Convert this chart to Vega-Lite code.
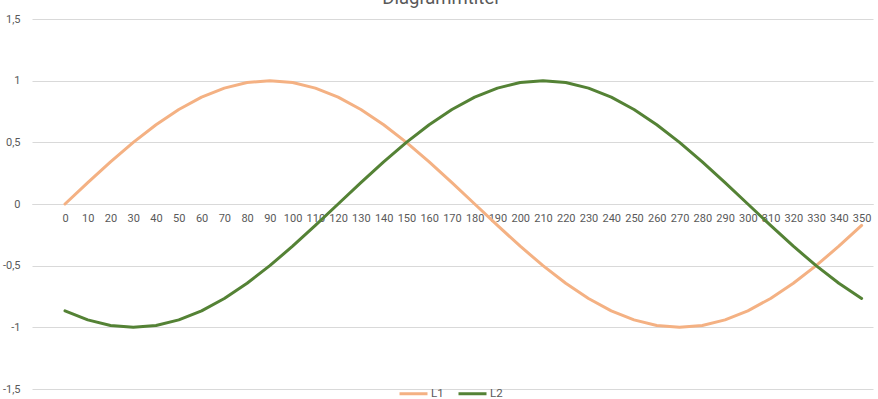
{
  "$schema": "https://vega.github.io/schema/vega-lite/v6.json",
  "width": 841,
  "height": 370,
  "autosize": {"type": "none"},
  "padding": {"top": 19, "left": 32, "right": 5, "bottom": 10},
  "background": "white",
  "title": {
    "text": "Diagrammtitel",
    "fontSize": 18.5,
    "font": "Roboto",
    "fontWeight": "normal",
    "color": "#595959",
    "anchor": "middle",
    "frame": "group",
    "baseline": "alphabetic",
    "offset": 3,
    "dx": -12,
    "dy": 12
  },
  "data": {
    "values": [
      {"x": 0, "s": "L1", "v": 0}, {"x": 10, "s": "L1", "v": 0.1736}, {"x": 20, "s": "L1", "v": 0.342}, {"x": 30, "s": "L1", "v": 0.5},
      {"x": 40, "s": "L1", "v": 0.6428}, {"x": 50, "s": "L1", "v": 0.766}, {"x": 60, "s": "L1", "v": 0.866}, {"x": 70, "s": "L1", "v": 0.9397},
      {"x": 80, "s": "L1", "v": 0.9848}, {"x": 90, "s": "L1", "v": 1}, {"x": 100, "s": "L1", "v": 0.9848}, {"x": 110, "s": "L1", "v": 0.9397},
      {"x": 120, "s": "L1", "v": 0.866}, {"x": 130, "s": "L1", "v": 0.766}, {"x": 140, "s": "L1", "v": 0.6428}, {"x": 150, "s": "L1", "v": 0.5},
      {"x": 160, "s": "L1", "v": 0.342}, {"x": 170, "s": "L1", "v": 0.1736}, {"x": 180, "s": "L1", "v": 0}, {"x": 190, "s": "L1", "v": -0.1736},
      {"x": 200, "s": "L1", "v": -0.342}, {"x": 210, "s": "L1", "v": -0.5}, {"x": 220, "s": "L1", "v": -0.6428}, {"x": 230, "s": "L1", "v": -0.766},
      {"x": 240, "s": "L1", "v": -0.866}, {"x": 250, "s": "L1", "v": -0.9397}, {"x": 260, "s": "L1", "v": -0.9848}, {"x": 270, "s": "L1", "v": -1},
      {"x": 280, "s": "L1", "v": -0.9848}, {"x": 290, "s": "L1", "v": -0.9397}, {"x": 300, "s": "L1", "v": -0.866}, {"x": 310, "s": "L1", "v": -0.766},
      {"x": 320, "s": "L1", "v": -0.6428}, {"x": 330, "s": "L1", "v": -0.5}, {"x": 340, "s": "L1", "v": -0.342}, {"x": 350, "s": "L1", "v": -0.1736},
      {"x": 0, "s": "L2", "v": -0.866}, {"x": 10, "s": "L2", "v": -0.9397}, {"x": 20, "s": "L2", "v": -0.9848}, {"x": 30, "s": "L2", "v": -1},
      {"x": 40, "s": "L2", "v": -0.9848}, {"x": 50, "s": "L2", "v": -0.9397}, {"x": 60, "s": "L2", "v": -0.866}, {"x": 70, "s": "L2", "v": -0.766},
      {"x": 80, "s": "L2", "v": -0.6428}, {"x": 90, "s": "L2", "v": -0.5}, {"x": 100, "s": "L2", "v": -0.342}, {"x": 110, "s": "L2", "v": -0.1736},
      {"x": 120, "s": "L2", "v": 0}, {"x": 130, "s": "L2", "v": 0.1736}, {"x": 140, "s": "L2", "v": 0.342}, {"x": 150, "s": "L2", "v": 0.5},
      {"x": 160, "s": "L2", "v": 0.6428}, {"x": 170, "s": "L2", "v": 0.766}, {"x": 180, "s": "L2", "v": 0.866}, {"x": 190, "s": "L2", "v": 0.9397},
      {"x": 200, "s": "L2", "v": 0.9848}, {"x": 210, "s": "L2", "v": 1}, {"x": 220, "s": "L2", "v": 0.9848}, {"x": 230, "s": "L2", "v": 0.9397},
      {"x": 240, "s": "L2", "v": 0.866}, {"x": 250, "s": "L2", "v": 0.766}, {"x": 260, "s": "L2", "v": 0.6428}, {"x": 270, "s": "L2", "v": 0.5},
      {"x": 280, "s": "L2", "v": 0.342}, {"x": 290, "s": "L2", "v": 0.1736}, {"x": 300, "s": "L2", "v": 0}, {"x": 310, "s": "L2", "v": -0.1736},
      {"x": 320, "s": "L2", "v": -0.342}, {"x": 330, "s": "L2", "v": -0.5}, {"x": 340, "s": "L2", "v": -0.6428}, {"x": 350, "s": "L2", "v": -0.766}
    ]
  },
  "mark": {"type": "line", "strokeWidth": 3, "strokeCap": "round", "strokeJoin": "round"},
  "encoding": {
    "x": {
      "field": "x",
      "type": "quantitative",
      "scale": {"domain": [-14.5, 355], "nice": false, "zero": false},
      "axis": {
        "title": null,
        "values": [0,10,20,30,40,50,60,70,80,90,100,110,120,130,140,150,160,170,180,190,200,210,220,230,240,250,260,270,280,290,300,310,320,330,340,350],
        "format": "d",
        "grid": false,
        "ticks": false,
        "tickSize": 0,
        "offset": -185,
        "domainColor": "#D9D9D9",
        "domainWidth": 1,
        "labelPadding": 8,
        "labelFlush": false,
        "labelOverlap": false
      }
    },
    "y": {
      "field": "v",
      "type": "quantitative",
      "scale": {"domain": [-1.5, 1.5], "nice": false},
      "axis": {
        "title": null,
        "values": [-1.5, -1, -0.5, 0, 0.5, 1, 1.5],
        "format": ".1~f",
        "grid": true,
        "gridColor": "#D9D9D9",
        "gridWidth": 1,
        "domain": false,
        "ticks": false,
        "tickSize": 0,
        "labelPadding": 12
      }
    },
    "color": {
      "field": "s",
      "type": "nominal",
      "scale": {"domain": ["L1", "L2"], "range": ["#F4B183", "#548235"]},
      "legend": {
        "title": null,
        "orient": "none",
        "direction": "horizontal",
        "legendX": 366,
        "legendY": 359,
        "symbolType": "stroke",
        "symbolSize": 784,
        "symbolStrokeWidth": 3,
        "labelOffset": 2,
        "columnPadding": 8,
        "labelFontSize": 11.5,
        "labelColor": "#595959",
        "labelFont": "Roboto"
      }
    }
  },
  "config": {
    "locale": {
      "number": {"decimal": ",", "thousands": ".", "grouping": [3], "currency": ["", " €"], "minus": "-"}
    },
    "view": {"stroke": null},
    "axis": {"labelFont": "Roboto", "labelFontSize": 11, "labelColor": "#595959"}
  }
}
